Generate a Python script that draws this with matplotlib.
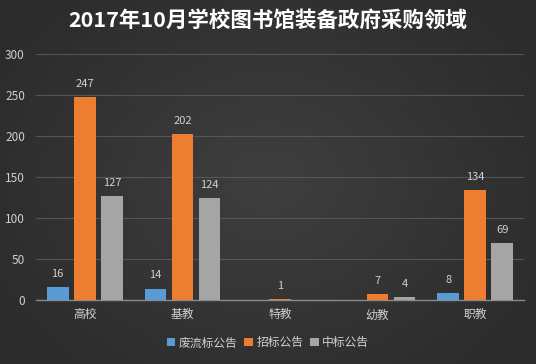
import numpy as np
import matplotlib
matplotlib.use('Agg')
import matplotlib.pyplot as plt

plt.rcParams['font.family'] = ['Noto Sans CJK SC', 'DejaVu Sans']

categories = ['高校', '基教', '特教', '幼教', '职教']
series_names = ['废流标公告', '招标公告', '中标公告']
feiliu = [16, 14, 0, 0, 8]
zhaobiao = [247, 202, 1, 7, 134]
zhongbiao = [127, 124, 0, 4, 69]
yticks = [0, 50, 100, 150, 200, 250, 300]

colors = ['#5B9BD5', '#ED7D31', '#A5A5A5']
txt = '#d0d0d0'

fig = plt.figure(figsize=(5.36, 3.64), dpi=100)
fig.patch.set_facecolor('#333333')

# background gradient (a bit lighter in the middle)
bg = fig.add_axes([0, 0, 1, 1], zorder=-10)
yy, xx = np.mgrid[-1:1:200j, -1:1:300j]
r = np.clip(np.sqrt(xx**2 * 0.7 + yy**2 * 0.5), 0, 1)
g = 0.245 - 0.075 * r
bg.imshow(np.dstack([g, g, g]), aspect='auto', extent=[0, 1, 0, 1])
bg.axis('off')

ax = fig.add_axes([36/536, 64/364, 488/536, 246/364])
ax.set_facecolor('none')

x = np.arange(len(categories))
w = 0.22
off = 0.277
data = [feiliu, zhaobiao, zhongbiao]
for i, (vals, c, name) in enumerate(zip(data, colors, series_names)):
    bars = ax.bar(x + (i - 1) * off, vals, w, color=c, label=name, zorder=3)
    for b, v in zip(bars, vals):
        if v > 0:
            ax.text(b.get_x() + b.get_width() / 2, v + 10, str(v),
                    ha='center', va='bottom', color=txt, fontsize=8)

ax.set_xlim(-0.5, 4.5)
ax.set_ylim(0, 300)
ax.set_yticks(yticks)
ax.set_xticks(x)
ax.set_xticklabels(categories)
ax.tick_params(axis='both', length=0, colors=txt, labelsize=8.5)
ax.tick_params(axis='y', pad=8)
ax.tick_params(axis='x', pad=6)
ax.grid(axis='y', color='#555555', linewidth=0.8, zorder=0)
for s in ['top', 'right', 'left']:
    ax.spines[s].set_visible(False)
ax.spines['bottom'].set_color('#8a8a8a')
ax.spines['bottom'].set_linewidth(1.0)

fig.text(0.5, 0.945, '2017年10月学校图书馆装备政府采购领域', ha='center', va='center',
         color='white', fontsize=15.5, fontweight='bold')

leg = fig.legend(loc='center', bbox_to_anchor=(0.5, 0.058), ncol=3, frameon=False,
                 fontsize=8.5, handlelength=0.7, handleheight=0.7, handletextpad=0.3,
                 columnspacing=0.6, labelcolor=txt)

fig.savefig('out.png', dpi=100, facecolor=fig.get_facecolor())
